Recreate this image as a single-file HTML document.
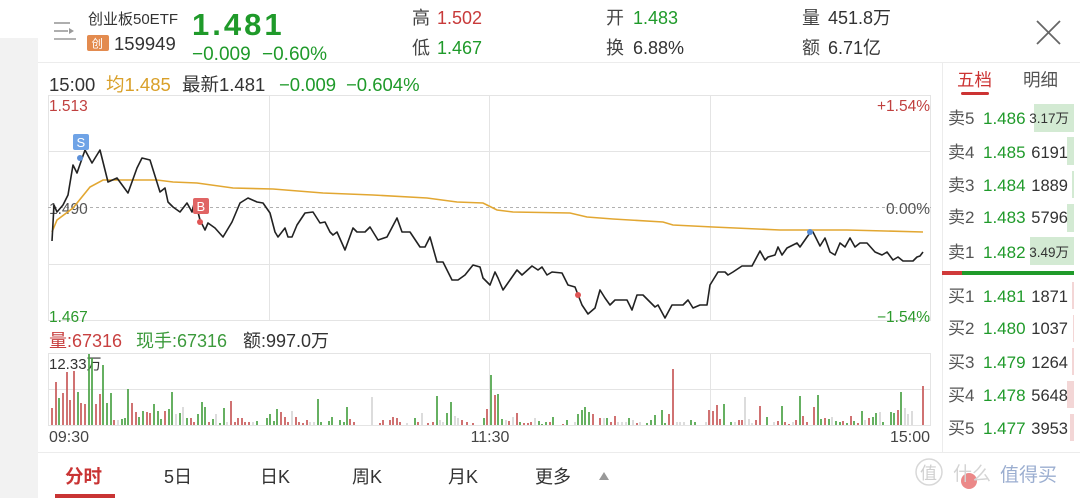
<!DOCTYPE html>
<html>
<head>
<meta charset="utf-8">
<style>
html,body{margin:0;padding:0;background:#fff;}
body{width:1080px;height:498px;overflow:hidden;position:relative;}
svg{position:absolute;left:0;top:0;}
text{font-family:"Liberation Sans","Noto Sans CJK SC",sans-serif;}
</style>
</head>
<body>
<svg width="1080" height="498" viewBox="0 0 1080 498" xmlns="http://www.w3.org/2000/svg">
  <!-- left gray strip -->
  <rect x="0" y="38" width="38" height="460" fill="#f2f2f2"/>
  <!-- separators -->
  <line x1="38" y1="62.5" x2="1080" y2="62.5" stroke="#ececec" stroke-width="1"/>
  <line x1="38" y1="452.5" x2="1080" y2="452.5" stroke="#ececec" stroke-width="1"/>
  <line x1="942.5" y1="63" x2="942.5" y2="452" stroke="#ececec" stroke-width="1"/>

  <!-- header -->
  <g stroke="#9a9a9a" stroke-width="1.6" fill="none">
    <line x1="54" y1="23" x2="70" y2="23"/>
    <line x1="54" y1="31" x2="68" y2="31"/>
    <line x1="54" y1="39" x2="76" y2="39"/>
  </g>
  <polygon points="69,28 74,31 69,34" fill="#9a9a9a"/>
  <text x="88" y="24" font-size="15" fill="#333">创业板50ETF</text>
  <rect x="87" y="35" width="22" height="16" rx="2" fill="#e38b4f"/>
  <text x="91.5" y="47.5" font-size="11.5" fill="#fff">创</text>
  <text x="114" y="50" font-size="18.5" fill="#333">159949</text>
  <text x="192" y="35" font-size="31" font-weight="bold" letter-spacing="3" fill="#1f9a2a">1.481</text>
  <text x="192" y="60" font-size="19" fill="#1f9a2a">−0.009</text>
  <text x="262" y="60" font-size="19" fill="#1f9a2a">−0.60%</text>

  <text x="412" y="24" font-size="18" fill="#444">高</text>
  <text x="437" y="24" font-size="18" fill="#c83a3a">1.502</text>
  <text x="412" y="54" font-size="18" fill="#444">低</text>
  <text x="437" y="54" font-size="18" fill="#1f9a2a">1.467</text>
  <text x="606" y="24" font-size="18" fill="#444">开</text>
  <text x="633" y="24" font-size="18" fill="#1f9a2a">1.483</text>
  <text x="606" y="54" font-size="18" fill="#444">换</text>
  <text x="633" y="54" font-size="18" fill="#333">6.88%</text>
  <text x="802" y="24" font-size="18" fill="#444">量</text>
  <text x="828" y="24" font-size="18" fill="#333">451.8万</text>
  <text x="802" y="54" font-size="18" fill="#444">额</text>
  <text x="828" y="54" font-size="18" fill="#333">6.71亿</text>
  <g stroke="#666" stroke-width="1.8">
    <line x1="1037" y1="21" x2="1060" y2="44"/>
    <line x1="1060" y1="21" x2="1037" y2="44"/>
  </g>

  <!-- info row -->
  <text x="49" y="91" font-size="18.5" fill="#333">15:00</text>
  <text x="106" y="91" font-size="18.5" fill="#d9a02a">均1.485</text>
  <text x="182" y="91" font-size="18.5" fill="#333">最新1.481</text>
  <text x="279" y="91" font-size="18.5" fill="#1f9a2a">−0.009</text>
  <text x="346" y="91" font-size="18.5" fill="#1f9a2a">−0.604%</text>

  <!-- price chart grid -->
  <g stroke="#e4e4e4" stroke-width="1" fill="none">
    <rect x="48.5" y="95.5" width="882" height="225"/>
    <line x1="48" y1="151.5" x2="931" y2="151.5"/>
    <line x1="48" y1="264.5" x2="931" y2="264.5"/>
    <line x1="269.5" y1="95" x2="269.5" y2="321"/>
    <line x1="489.5" y1="95" x2="489.5" y2="321"/>
    <line x1="710.5" y1="95" x2="710.5" y2="321"/>
  </g>
  <line x1="48" y1="207.5" x2="931" y2="207.5" stroke="#b0b0b0" stroke-width="1" stroke-dasharray="3,3"/>

  <text x="49" y="111" font-size="15.5" fill="#c0403f">1.513</text>
  <text x="49" y="214" font-size="15.5" fill="#555">1.490</text>
  <text x="49" y="322" font-size="15.5" fill="#2c9a2c">1.467</text>
  <text x="930" y="111" font-size="15.5" fill="#c0403f" text-anchor="end">+1.54%</text>
  <text x="930" y="214" font-size="15.5" fill="#555" text-anchor="end">0.00%</text>
  <text x="930" y="322" font-size="15.5" fill="#2c9a2c" text-anchor="end">−1.54%</text>

  <!-- average line -->
  <polyline fill="none" stroke="#e2a732" stroke-width="1.6" points="52,232 57,220 73,208 90,187 103,180 120,180 157,180 173,182 197,183 233,188 273,189 323,193 373,195 427,198 457,202 483,203 487,205 497,210 513,212 570,213 587,217 613,219 663,222 673,225 713,227 780,230 847,230 923,232"/>
  <!-- price line -->
  <polyline fill="none" stroke="#222" stroke-width="1.6" stroke-linejoin="round" points="52,241 54,205 57,212 63,205 68,195 73,165 77,173 85,150 92,163 100,150 108,182 117,178 128,193 137,168 142,158 150,160 160,192 165,188 168,202 173,207 180,212 187,203 192,212 195,200 200,220 205,230 208,223 215,228 223,237 232,222 240,203 248,198 257,202 263,203 270,213 275,232 278,237 285,228 288,237 292,237 297,225 305,213 313,212 320,223 325,222 330,232 333,235 337,232 345,250 353,228 357,232 365,232 370,227 378,240 387,237 397,218 402,232 410,232 420,247 425,247 430,237 437,262 443,262 452,280 458,280 465,275 473,265 480,267 483,278 487,282 490,285 495,272 498,278 503,290 510,280 517,270 522,275 532,266 538,270 542,267 547,275 552,272 562,273 568,285 575,287 582,305 588,314 595,308 600,290 605,298 610,305 615,300 627,300 632,310 637,295 643,295 655,307 658,305 665,318 672,305 683,305 688,300 693,308 700,305 707,305 710,285 718,272 725,272 728,275 733,272 742,266 752,266 760,251 765,260 768,257 775,255 778,247 782,255 787,248 797,243 800,247 807,237 810,233 813,232 820,246 825,238 830,252 835,255 840,243 845,247 850,238 855,247 860,243 867,243 875,252 882,255 887,252 893,260 898,257 903,261 913,261 917,257 920,256 923,252"/>

  <!-- markers -->
  <rect x="73" y="134" width="16" height="16" rx="2" fill="#6fa3e6"/>
  <text x="76.5" y="147" font-size="13" fill="#fff">S</text>
  <circle cx="80" cy="158" r="3" fill="#5b8fd8"/>
  <rect x="193" y="198" width="16" height="16" rx="2" fill="#e06464"/>
  <text x="196.5" y="211" font-size="13" fill="#fff">B</text>
  <circle cx="200" cy="222" r="3" fill="#e05555"/>
  <circle cx="578" cy="295" r="3" fill="#e05555"/>
  <circle cx="810" cy="232" r="3" fill="#5b8fd8"/>

  <!-- volume label -->
  <text x="49" y="347" font-size="18" fill="#c84040">量:67316</text>
  <text x="136" y="347" font-size="18" fill="#3c9a3c">现手:67316</text>
  <text x="243" y="347" font-size="18" fill="#333">额:997.0万</text>

  <!-- volume grid -->
  <g stroke="#e4e4e4" stroke-width="1" fill="none">
    <rect x="48.5" y="353.5" width="882" height="72"/>
    <line x1="48" y1="389.5" x2="931" y2="389.5"/>
    <line x1="489.5" y1="353" x2="489.5" y2="426"/>
    <line x1="710.5" y1="353" x2="710.5" y2="426"/>
  </g>
  <text x="49" y="369" font-size="15" fill="#333">12.33万</text>

  <!-- volume bars -->
  <path fill="none" stroke="#c85a5a" stroke-width="1.7" d="M52 425V408M56 425V382M63 425V393M67 425V372M70 425V400M74 425V371M81 425V403M85 425V404M96 425V404M100 425V394M114 425V420M132 425V403M136 425V412M147 425V412M150 425V413M165 425V411M191 425V418M194 425V422M209 425V422M231 425V401M235 425V422M238 425V418M242 425V418M245 425V422M249 425V422M281 425V412M285 425V417M288 425V422M296 425V417M299 425V422M303 425V423M307 425V420M350 425V419M354 425V422M380 425V423M383 425V420M390 425V420M393 425V417M397 425V418M400 425V422M418 425V422M428 425V423M433 425V422M462 425V420M467 425V422M473 425V423M487 425V409M495 425V395M509 425V421M517 425V413M524 425V423M528 425V423M531 425V422M550 425V422M563 425V424M593 425V414M600 425V418M611 425V422M615 425V416M637 425V423M669 425V414M673 425V369M709 425V410M713 425V411M717 425V405M720 425V419M739 425V420M742 425V420M756 425V420M760 425V406M778 425V421M785 425V422M789 425V424M796 425V420M803 425V416M807 425V422M814 425V407M825 425V418M843 425V421M851 425V416M858 425V423M869 425V418M898 425V410M923 425V386"/>
  <path fill="none" stroke="#4ba346" stroke-width="1.7" d="M59 425V398M78 425V392M89 425V354M92 425V358M103 425V365M107 425V403M111 425V393M122 425V419M125 425V418M128 425V389M139 425V417M143 425V411M154 425V404M158 425V411M161 425V419M169 425V409M172 425V392M180 425V413M187 425V418M198 425V414M202 425V402M205 425V407M213 425V419M220 425V423M224 425V408M257 425V421M267 425V418M270 425V414M274 425V421M277 425V409M318 425V399M321 425V422M329 425V421M332 425V417M340 425V420M344 425V422M347 425V407M415 425V418M437 425V396M447 425V413M451 425V402M484 425V418M491 425V375M498 425V394M502 425V419M520 425V422M539 425V421M542 425V424M546 425V422M553 425V417M567 425V420M578 425V414M582 425V410M585 425V407M589 425V412M607 425V418M629 425V418M647 425V423M651 425V420M655 425V415M662 425V410M665 425V423M691 425V420M695 425V422M724 425V404M731 425V422M767 425V417M782 425V406M800 425V396M818 425V395M821 425V419M829 425V419M836 425V421M840 425V422M847 425V423M854 425V421M862 425V411M873 425V417M876 425V413M883 425V422M891 425V412M894 425V413M901 425V392"/>
  <path fill="none" stroke="#d6d6d6" stroke-width="1.7" d="M118 425V420M176 425V414M183 425V407M216 425V414M227 425V422M253 425V422M292 425V411M310 425V422M314 425V422M372 425V397M407 425V423M422 425V413M440 425V420M443 425V422M455 425V416M458 425V418M506 425V420M513 425V417M535 425V418M575 425V422M604 425V418M618 425V422M622 425V422M626 425V422M633 425V420M640 425V422M677 425V422M680 425V422M684 425V422M706 425V422M735 425V422M745 425V397M749 425V419M752 425V423M774 425V422M793 425V422M832 425V417M865 425V420M880 425V412M905 425V408M908 425V414M912 425V411"/>

  <!-- time labels -->
  <text x="49" y="442" font-size="16" fill="#444">09:30</text>
  <text x="490" y="442" font-size="16" fill="#444" text-anchor="middle">11:30</text>
  <text x="930" y="442" font-size="16" fill="#444" text-anchor="end">15:00</text>

  <!-- order book -->
  <text x="957" y="86" font-size="17.5" fill="#cc3333">五档</text>
  <rect x="961" y="92" width="28" height="3" rx="1.5" fill="#cc3333"/>
  <text x="1023" y="86" font-size="17.5" fill="#555">明细</text>

  <rect x="1034" y="104" width="40" height="28" fill="#d3ead3"/>
  <rect x="1067" y="137" width="7" height="28" fill="#d3ead3"/>
  <rect x="1072" y="171" width="2" height="27" fill="#d3ead3"/>
  <rect x="1067" y="204" width="7" height="28" fill="#d3ead3"/>
  <rect x="1030" y="237" width="44" height="28" fill="#d3ead3"/>
  <rect x="942" y="271" width="20" height="4" fill="#d03a3a"/>
  <rect x="962" y="271" width="112" height="4" fill="#1f9a2a"/>
  <rect x="1072" y="282" width="2" height="27" fill="#f3d6d6"/>
  <rect x="1073" y="315" width="1" height="27" fill="#f3d6d6"/>
  <rect x="1072" y="348" width="2" height="27" fill="#f3d6d6"/>
  <rect x="1067" y="381" width="7" height="27" fill="#f3d6d6"/>
  <rect x="1070" y="414" width="4" height="27" fill="#f3d6d6"/>

  <g font-size="17" fill="#555">
    <text x="948" y="124">卖5</text>
    <text x="948" y="158">卖4</text>
    <text x="948" y="191">卖3</text>
    <text x="948" y="223">卖2</text>
    <text x="948" y="258">卖1</text>
    <text x="948" y="302">买1</text>
    <text x="948" y="334">买2</text>
    <text x="948" y="368">买3</text>
    <text x="948" y="401">买4</text>
    <text x="948" y="434">买5</text>
  </g>
  <g font-size="17" fill="#1f9a2a">
    <text x="983" y="124">1.486</text>
    <text x="983" y="158">1.485</text>
    <text x="983" y="191">1.484</text>
    <text x="983" y="223">1.483</text>
    <text x="983" y="258">1.482</text>
    <text x="983" y="302">1.481</text>
    <text x="983" y="334">1.480</text>
    <text x="983" y="368">1.479</text>
    <text x="983" y="401">1.478</text>
    <text x="983" y="434">1.477</text>
  </g>
  <g font-size="16.5" fill="#333" text-anchor="end">
    <text x="1069" y="123" font-size="13.5">3.17万</text>
    <text x="1068" y="158">6191</text>
    <text x="1068" y="191">1889</text>
    <text x="1068" y="223">5796</text>
    <text x="1069" y="257" font-size="13.5">3.49万</text>
    <text x="1068" y="302">1871</text>
    <text x="1068" y="334">1037</text>
    <text x="1068" y="368">1264</text>
    <text x="1068" y="401">5648</text>
    <text x="1068" y="434">3953</text>
  </g>

  <!-- bottom tabs -->
  <text x="65" y="483" font-size="18.5" font-weight="bold" fill="#c93434">分时</text>
  <rect x="55" y="494" width="60" height="4" fill="#c93434"/>
  <g font-size="18" fill="#333">
    <text x="164" y="483">5日</text>
    <text x="260" y="483">日K</text>
    <text x="352" y="483">周K</text>
    <text x="448" y="483">月K</text>
    <text x="535" y="483">更多</text>
  </g>
  <polygon points="599,480 609,480 604,472" fill="#999"/>

  <!-- watermark -->
  <circle cx="929" cy="472" r="13" fill="none" stroke="#d8d8d8" stroke-width="1.5"/>
  <text x="920" y="479" font-size="17" fill="#cfcfcf">值</text>
  <circle cx="969" cy="481" r="8" fill="#e66a6a" opacity="0.8"/>
  <text x="953" y="480" font-size="19" fill="#d4d4d4">什么</text>
  <text x="1000" y="481" font-size="19" fill="#8aa0c8" opacity="0.85">值得买</text>
</svg>
</body>
</html>
